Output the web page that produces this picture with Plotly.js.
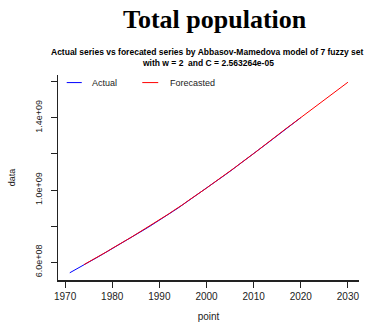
<!DOCTYPE html>
<html>
<head>
<meta charset="utf-8">
<script src="https://cdn.plot.ly/plotly-3.0.1.min.js"></script>
<style>
html,body{margin:0;padding:0;background:#fff;}
#chart{width:377px;height:326px;}
</style>
</head>
<body>
<div id="chart"></div>
<script>
// Actual series (years and values)
var actualYears = [1971,1972,1973,1974,1975,1976,1977,1978,1979,1980,
  1981,1982,1983,1984,1985,1986,1987,1988,1989,1990,
  1991,1992,1993,1994,1995,1996,1997,1998,1999,2000,
  2001,2002,2003,2004,2005,2006,2007,2008,2009,2010,
  2011,2012,2013,2014,2015,2016,2017,2018,2019,2020];
var actualValues = [542e6,556e6,571e6,585e6,600e6,615e6,630e6,645e6,660e6,675e6,
  690e6,706e6,721e6,737e6,752e6,768e6,784e6,800e6,816e6,833e6,
  850e6,867e6,884e6,901e6,919e6,937e6,955e6,973e6,991e6,1010e6,
  1028e6,1047e6,1066e6,1085e6,1104e6,1123e6,1142e6,1161e6,1181e6,1201e6,
  1221e6,1241e6,1261e6,1281e6,1301e6,1321e6,1341e6,1361e6,1381e6,1401e6];

// Forecasted series (years and values)
var forecastYears = [1974,1975,1976,1977,1978,1979,1980,
  1981,1982,1983,1984,1985,1986,1987,1988,1989,1990,
  1991,1992,1993,1994,1995,1996,1997,1998,1999,2000,
  2001,2002,2003,2004,2005,2006,2007,2008,2009,2010,
  2011,2012,2013,2014,2015,2016,2017,2018,2019,2020,
  2021,2022,2023,2024,2025,2026,2027,2028,2029,2030];
var forecastValues = [587e6,601e6,616e6,632e6,646e6,661e6,677e6,
  691e6,707e6,723e6,738e6,754e6,769e6,785e6,802e6,817e6,834e6,
  852e6,868e6,886e6,902e6,920e6,939e6,956e6,975e6,992e6,1011e6,
  1030e6,1048e6,1067e6,1087e6,1105e6,1124e6,1144e6,1162e6,1182e6,1202e6,
  1222e6,1243e6,1262e6,1282e6,1302e6,1322e6,1343e6,1362e6,1382e6,1402e6,
  1420e6,1440e6,1459e6,1479e6,1499e6,1518e6,1538e6,1558e6,1577e6,1597e6];

// Tick labels
var xTickVals = [1970,1980,1990,2000,2010,2020,2030];
var yTickVals = [6e8,8e8,1.0e9,1.2e9,1.4e9,1.6e9];
var yTickText = ["6.0e+08","","1.0e+09","","1.4e+09",""];

var mainTitle = "Total population";
var subTitle1 = "Actual series vs forecated series by Abbasov-Mamedova model of 7 fuzzy set";
var subTitle2 = "with w = 2 \u00A0and C = 2.563264e-05";
var legendNames = ["Actual","Forecasted"];
var colors = ["#0000FF","#FF0000"];

var sans = "Liberation Sans, Arial, sans-serif";

var traces = [
  {x: actualYears, y: actualValues, type: "scatter", mode: "lines",
   name: legendNames[0], line: {color: colors[0], width: 1}},
  {x: forecastYears, y: forecastValues, type: "scatter", mode: "lines",
   name: legendNames[1], line: {color: colors[1], width: 1}}
];

var layout = {
  width: 377, height: 326,
  margin: {l: 58, r: 18, t: 75, b: 46, pad: 0},
  paper_bgcolor: "#fff", plot_bgcolor: "#fff",
  showlegend: false,
  font: {family: sans, color: "#000", size: 9},
  xaxis: {
    range: [1968.5, 2032.35],
    tickvals: xTickVals,
    ticks: "outside", ticklen: 6, tickwidth: 1, tickcolor: "#222",
    showline: true, linecolor: "#222", linewidth: 1.5,
    showgrid: false, zeroline: false,
    tickfont: {family: sans, size: 10, color: "#222"},
    title: {text: "point", font: {family: sans, size: 10, color: "#222"}, standoff: 12},
    automargin: false
  },
  yaxis: {
    range: [5.02e8, 1.637e9],
    tickvals: yTickVals, ticktext: yTickText,
    tickangle: -90,
    ticklabelstandoff: 5,
    ticks: "outside", ticklen: 6, tickwidth: 1, tickcolor: "#222",
    showline: true, linecolor: "#222", linewidth: 1.5,
    showgrid: false, zeroline: false,
    tickfont: {family: sans, size: 9, color: "#222"},
    title: {text: "data", font: {family: sans, size: 9, color: "#222"}, standoff: 17},
    automargin: false
  },
  shapes: [
    {type: "line", xref: "paper", yref: "paper", x0: 0.029, x1: 0.079, y0: 0.963, y1: 0.963,
     line: {color: colors[0], width: 1}},
    {type: "line", xref: "paper", yref: "paper", x0: 0.280, x1: 0.333, y0: 0.963, y1: 0.963,
     line: {color: colors[1], width: 1}}
  ],
  annotations: [
    {text: "<b>" + mainTitle + "</b>", xref: "paper", yref: "paper", x: 0.52, y: 1.27,
     xanchor: "center", yanchor: "middle", showarrow: false,
     font: {family: "Liberation Serif, Times New Roman, serif", size: 26, color: "#000"}},
    {text: "<b>" + subTitle1 + "</b>", xref: "paper", yref: "paper", x: 0.497, y: 1.114,
     xanchor: "center", yanchor: "middle", showarrow: false,
     font: {family: sans, size: 8.5, color: "#000"}},
    {text: "<b>" + subTitle2 + "</b>", xref: "paper", yref: "paper", x: 0.497, y: 1.057,
     xanchor: "center", yanchor: "middle", showarrow: false,
     font: {family: sans, size: 8.5, color: "#000"}},
    {text: legendNames[0], xref: "paper", yref: "paper", x: 0.106, y: 0.963,
     xanchor: "left", yanchor: "middle", showarrow: false,
     font: {family: sans, size: 9, color: "#222"}},
    {text: legendNames[1], xref: "paper", yref: "paper", x: 0.364, y: 0.963,
     xanchor: "left", yanchor: "middle", showarrow: false,
     font: {family: sans, size: 9, color: "#222"}}
  ]
};

Plotly.newPlot("chart", traces, layout, {displayModeBar: false, staticPlot: true});
</script>
</body>
</html>
